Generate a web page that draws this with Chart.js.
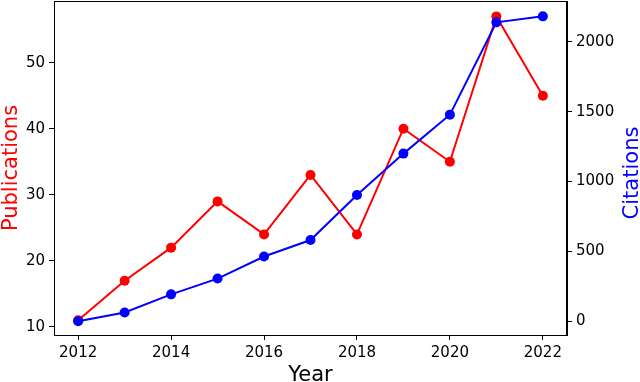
<!DOCTYPE html>
<html>
<head>
<meta charset="utf-8">
<script src="https://cdn.jsdelivr.net/npm/chart.js@4/dist/chart.umd.min.js"></script>
<style>
  html, body { margin: 0; padding: 0; background: #fff; }
  #wrap { width: 640px; height: 382px; }
</style>
</head>
<body>
<div id="wrap"><canvas id="chart"></canvas></div>
<script>
// data
const years = [2012, 2013, 2014, 2015, 2016, 2017, 2018, 2019, 2020, 2021, 2022];
const publications = [11, 17, 22, 29, 24, 33, 24, 40, 35, 57, 45];
const citations = [0, 62, 192, 305, 463, 581, 903, 1200, 1479, 2140, 2183];

const xTicks = [2012, 2014, 2016, 2018, 2020, 2022];
const pubTicks = [10, 20, 30, 40, 50];
const citeTicks = [0, 500, 1000, 1500, 2000];

const FONT = "'DejaVu Sans', sans-serif";
const RED = '#ff0000';
const BLUE = '#0000ff';

// frame + axis titles (right title reads bottom-to-top like the original)
const framePlugin = {
  id: 'frame',
  afterDraw(chart) {
    const { ctx, chartArea: a } = chart;
    ctx.save();
    ctx.strokeStyle = '#000';
    ctx.lineWidth = 1;
    ctx.strokeRect(a.left + 0.5, a.top + 0.5, a.right - a.left - 1, a.bottom - a.top);

    ctx.font = '21px ' + FONT;
    ctx.textAlign = 'center';
    ctx.textBaseline = 'alphabetic';

    ctx.fillStyle = '#000';
    ctx.fillText('Year', 310.5, 381);

    ctx.save();
    ctx.translate(16.5, 168);
    ctx.rotate(-Math.PI / 2);
    ctx.fillStyle = RED;
    ctx.fillText('Publications', 0, 0);
    ctx.restore();

    ctx.save();
    ctx.translate(638, 173);
    ctx.rotate(-Math.PI / 2);
    ctx.fillStyle = BLUE;
    ctx.fillText('Citations', 0, 0);
    ctx.restore();
    ctx.restore();
  }
};

function axisStyle() {
  return {
    grid: { drawOnChartArea: false, drawTicks: true, tickLength: 5, color: '#000', lineWidth: 1 },
    border: { display: true, color: '#000', width: 1 },
    ticks: { color: '#000', font: { family: FONT, size: 15 }, padding: 4, callback: v => String(v) }
  };
}

function noPad(s) {
  s.paddingTop = 0; s.paddingBottom = 0; s.paddingLeft = 0; s.paddingRight = 0;
}

const xAxis = axisStyle();
const yLeft = axisStyle();
const yRight = axisStyle();

new Chart(document.getElementById('chart'), {
  type: 'line',
  data: {
    datasets: [
      {
        label: 'Citations',
        data: years.map((y, i) => ({ x: y, y: citations[i] })),
        yAxisID: 'y2',
        borderColor: BLUE,
        backgroundColor: BLUE,
        borderWidth: 2,
        pointRadius: 5,
        pointBorderWidth: 0,
        tension: 0,
        order: 0
      },
      {
        label: 'Publications',
        data: years.map((y, i) => ({ x: y, y: publications[i] })),
        yAxisID: 'y',
        borderColor: RED,
        backgroundColor: RED,
        borderWidth: 2,
        pointRadius: 5,
        pointBorderWidth: 0,
        tension: 0,
        order: 1
      }
    ]
  },
  options: {
    responsive: true,
    maintainAspectRatio: false,
    animation: false,
    layout: { autoPadding: false, padding: { top: 1, left: 0, right: 0, bottom: 0 } },
    plugins: { legend: { display: false }, tooltip: { enabled: false } },
    scales: {
      x: Object.assign(xAxis, {
        type: 'linear',
        min: 2011.48,
        max: 2022.52,
        afterBuildTicks: s => { s.ticks = xTicks.map(v => ({ value: v })); },
        afterFit: s => { s.height = 47; noPad(s); }
      }),
      y: Object.assign(yLeft, {
        type: 'linear',
        position: 'left',
        min: 8.78,
        max: 59.33,
        afterBuildTicks: s => { s.ticks = pubTicks.map(v => ({ value: v })); },
        afterFit: s => { s.width = 54; noPad(s); }
      }),
      y2: Object.assign(yRight, {
        type: 'linear',
        position: 'right',
        min: -99,
        max: 2293,
        afterBuildTicks: s => { s.ticks = citeTicks.map(v => ({ value: v })); },
        afterFit: s => { s.width = 73; noPad(s); }
      })
    }
  },
  plugins: [framePlugin]
});
</script>
</body>
</html>
